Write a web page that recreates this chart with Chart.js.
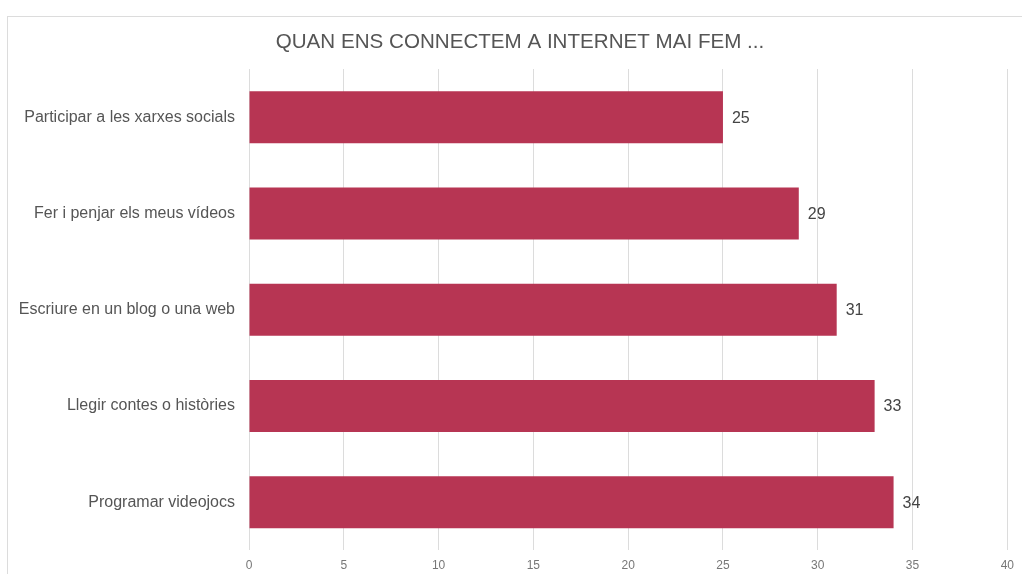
<!DOCTYPE html>
<html>
<head>
<meta charset="utf-8">
<script src="https://cdn.jsdelivr.net/npm/chart.js@4"></script>
<style>
  html, body { margin: 0; padding: 0; background: #fff; overflow: hidden; }
  #frame { position: absolute; left: 7px; top: 16px; width: 1100px; height: 700px; border: 1px solid #dcdcdc; }
  #chart { position: absolute; left: 0; top: 0; }
</style>
</head>
<body>
<div id="frame"></div>
<canvas id="chart" width="1022" height="574"></canvas>
<script>
// dades
const titol = 'QUAN ENS CONNECTEM A INTERNET MAI FEM ...';
const activitats = [
  'Participar a les xarxes socials',
  'Fer i penjar els meus vídeos',
  'Escriure en un blog o una web',
  'Llegir contes o històries',
  'Programar videojocs'
];
const respostes = [25, 29, 31, 33, 34];
const eixMin = 0, eixMax = 40, eixPas = 5;

const FONT = "'Liberation Sans', Arial, sans-serif";

// títol centrat a la pàgina i etiquetes de valor al final de cada barra
const valorsPlugin = {
  id: 'valors',
  afterDatasetsDraw(chart) {
    const ctx = chart.ctx;
    const meta = chart.getDatasetMeta(0);
    ctx.save();
    ctx.font = '20.6px ' + FONT;
    ctx.fillStyle = '#555';
    ctx.textAlign = 'center';
    ctx.textBaseline = 'middle';
    ctx.fillText(titol, 520, 42);

    ctx.font = '16px ' + FONT;
    ctx.fillStyle = '#444';
    ctx.textAlign = 'left';
    meta.data.forEach((bar, i) => {
      ctx.fillText(String(respostes[i]), bar.x + 9, bar.y + 1);
    });
    ctx.restore();
  }
};

new Chart(document.getElementById('chart'), {
  type: 'bar',
  data: {
    labels: activitats,
    datasets: [{
      data: respostes,
      backgroundColor: '#b73553',
      borderWidth: 0,
      categoryPercentage: 1,
      barPercentage: 0.54
    }]
  },
  options: {
    indexAxis: 'y',
    responsive: false,
    animation: false,
    devicePixelRatio: 1,
    layout: { padding: { left: 0, right: 13, top: 69, bottom: 0 } },
    plugins: {
      legend: { display: false },
      tooltip: { enabled: false },
      title: { display: false }
    },
    scales: {
      x: {
        min: eixMin,
        max: eixMax,
        afterFit(s) { s.height = 22; },
        ticks: { stepSize: eixPas, color: '#777', font: { family: FONT, size: 12 }, padding: 8 },
        grid: { color: '#dcdcdc', drawTicks: false },
        border: { display: false }
      },
      y: {
        afterFit(s) { s.width = 249; },
        ticks: { color: '#555', font: { family: FONT, size: 16 }, padding: 14 },
        grid: { display: false, drawTicks: false },
        border: { display: false }
      }
    }
  },
  plugins: [valorsPlugin]
});
</script>
</body>
</html>
